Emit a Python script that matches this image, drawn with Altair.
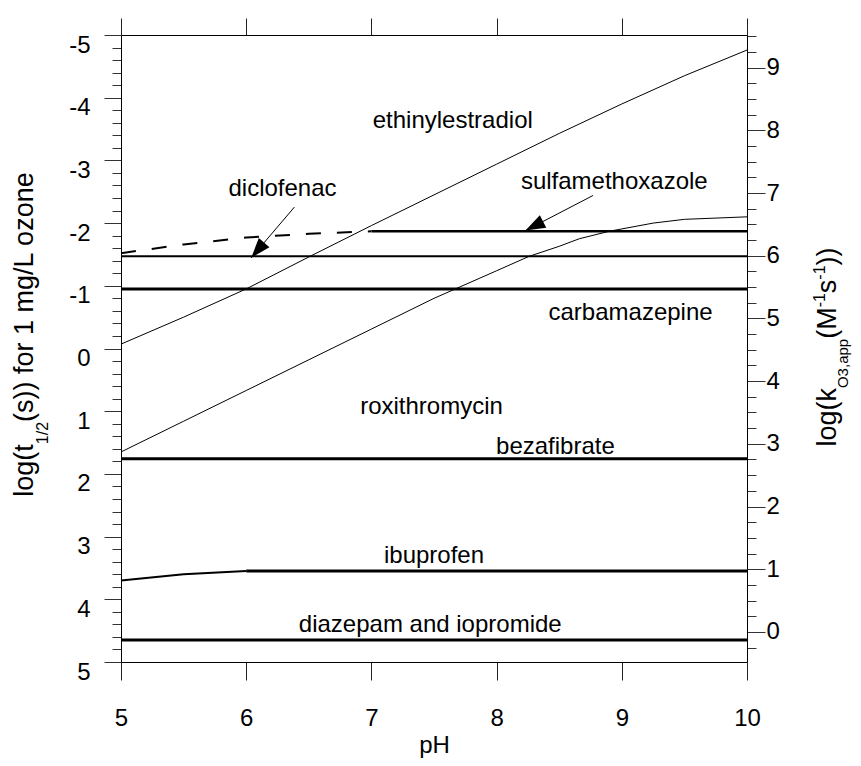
import math
import altair as alt
import pandas as pd

FONT = "Liberation Sans"

# ---------------- data ----------------
# x = pH, y = log(t1/2 (s)) for 1 mg/L ozone  (left axis)
ph_ethinylestradiol = [5, 5.5, 6, 6.5, 7, 7.5, 8, 8.5, 9, 9.5, 10]
logt_ethinylestradiol = [-0.07, -0.50, -0.95, -1.46, -1.96, -2.45, -2.94, -3.43, -3.90, -4.35, -4.76]

ph_roxithromycin = [5, 5.5, 6, 6.5, 7, 7.5, 8, 8.26, 8.5, 8.66, 8.9, 9.25, 9.5, 10]
logt_roxithromycin = [1.65, 1.16, 0.67, 0.18, -0.31, -0.80, -1.24, -1.47, -1.63, -1.75, -1.87, -2.00, -2.06, -2.10]

ph_sulfa_dashed = [5, 5.5, 6, 6.5, 7]
logt_sulfa_dashed = [-1.52, -1.66, -1.77, -1.83, -1.87]

ph_ibuprofen_low = [5, 5.5, 6]
logt_ibuprofen_low = [3.70, 3.60, 3.55]

flat_names = ["sulfamethoxazole", "diclofenac", "carbamazepine", "bezafibrate", "ibuprofen", "diazepam and iopromide"]
flat_ph_start = [7, 5, 5, 5, 6, 5]
flat_ph_end = [10, 10, 10, 10, 10, 10]
flat_logt = [-1.87, -1.47, -0.95, 1.76, 3.55, 4.65]
flat_width = [2.5, 2, 3, 3, 3, 3]

label_text = ["ethinylestradiol", "diclofenac", "sulfamethoxazole", "carbamazepine",
              "roxithromycin", "bezafibrate", "ibuprofen", "diazepam and iopromide"]
label_ph = [7.65, 6.29, 8.94, 9.07, 7.48, 8.47, 7.50, 7.47]
label_logt = [-3.52, -2.44, -2.55, -0.46, 1.04, 1.68, 3.42, 4.52]

arrow_names = ["diclofenac", "sulfamethoxazole"]
arrow_tail_ph = [6.385, 8.77]
arrow_tail_logt = [-2.255, -2.44]
arrow_tip_ph = [6.04, 8.23]
arrow_tip_logt = [-1.447, -1.88]

x_ticks = [5, 6, 7, 8, 9, 10]
left_major = list(range(-5, 6))
right_major = list(range(0, 10))
LOG_HALF_LIFE_OFFSET = 4.52   # log(t1/2) = 4.52 - log(k) for 1 mg/L ozone

# ---------------- layout ----------------
W, H = 626, 627
PAD_L, PAD_T = 113, 27
PAD_R = 861 - 16 - PAD_L - W
PAD_B = 766 - 16 - PAD_T - H

xscale = alt.Scale(domain=[5, 10], nice=False, zero=False)
yscale = alt.Scale(domain=[-5, 5], reverse=True, nice=False, zero=False)

is_int = "abs(datum.value - round(datum.value)) < 0.001"
left_vals = [round(-5 + 0.2 * i, 1) for i in range(51)]
right_vals = [round(-0.25 + 0.25 * i, 2) for i in range(40)]

x_axis = alt.Axis(orient="bottom", values=x_ticks, tickSize=18, labelPadding=26,
                  labelFontSize=24, title="pH", titleFontSize=24, titlePadding=3,
                  titleFontWeight="normal", grid=False, domainColor="black",
                  tickColor="#222", labelColor="black", titleColor="black",
                  labelFlush=False)
y_axis = alt.Axis(orient="left", values=left_vals,
                  tickSize={"condition": {"test": is_int, "value": 17}, "value": 9},
                  labelExpr=f"{is_int} ? toString(round(datum.value)) : ''",
                  labelFontSize=24, labelPadding=14, labelOffset=10, labelOverlap=False,
                  title=None, grid=False, domainColor="black", tickColor="#333",
                  labelColor="black", labelFlush=False)


def X(f="pH"):
    return alt.X(f"{f}:Q", scale=xscale, axis=x_axis)


def Y(f="L"):
    return alt.Y(f"{f}:Q", scale=yscale, axis=y_axis)


curves = pd.DataFrame({
    "pH": ph_ethinylestradiol + ph_roxithromycin,
    "L": logt_ethinylestradiol + logt_roxithromycin,
    "s": ["ethinylestradiol"] * len(ph_ethinylestradiol) + ["roxithromycin"] * len(ph_roxithromycin),
})
thin = alt.Chart(curves).mark_line(color="black", strokeWidth=1).encode(x=X(), y=Y(), detail="s:N")

ibu = alt.Chart(pd.DataFrame({"pH": ph_ibuprofen_low, "L": logt_ibuprofen_low})).mark_line(
    color="black", strokeWidth=2).encode(x=X(), y=Y())

smx = alt.Chart(pd.DataFrame({"pH": ph_sulfa_dashed, "L": logt_sulfa_dashed})).mark_line(
    color="black", strokeWidth=2, strokeDash=[15, 16]).encode(x=X(), y=Y())

flat = alt.Chart(pd.DataFrame({"pH": flat_ph_start, "pH2": flat_ph_end, "L": flat_logt,
                               "w": flat_width, "n": flat_names})).mark_rule(color="black").encode(
    x=X(), x2=alt.X2("pH2:Q"), y=Y(), strokeWidth=alt.StrokeWidth("w:Q", scale=None))

labels = alt.Chart(pd.DataFrame({"pH": label_ph, "L": label_logt, "t": label_text})).mark_text(
    fontSize=24, align="center", baseline="alphabetic", color="black", font=FONT).encode(
    x=X(), y=Y(), text="t:N")

# arrows
px_per_ph = W / 5.0
px_per_L = H / 10.0
angles = []
for i in range(len(arrow_names)):
    dx = (arrow_tip_ph[i] - arrow_tail_ph[i]) * px_per_ph
    dy = (arrow_tip_logt[i] - arrow_tail_logt[i]) * px_per_L
    angles.append(math.degrees(math.atan2(dx, -dy)) % 360)
arr = pd.DataFrame({"pH": arrow_tail_ph, "L": arrow_tail_logt, "pH2": arrow_tip_ph,
                    "L2": arrow_tip_logt, "ang": angles})
arrow_lines = alt.Chart(arr).mark_rule(color="black", strokeWidth=1).encode(
    x=X(), y=Y(), x2=alt.X2("pH2:Q"), y2=alt.Y2("L2:Q"))
arrow_heads = alt.Chart(arr).mark_point(
    shape="M0,0 L-0.42,1.2 L0.42,1.2 Z", filled=True, color="black", opacity=1,
    size=1100, strokeWidth=0).encode(
    x=alt.X("pH2:Q", scale=xscale, axis=x_axis), y=alt.Y("L2:Q", scale=yscale, axis=y_axis),
    angle=alt.Angle("ang:Q", scale=None))

# ---------------- composed axis titles (sub/superscripts) ----------------
AW = {" ": 278, "(": 333, ")": 333, "/": 278, ",": 278, "-": 333, "a": 556, "b": 556,
      "c": 500, "d": 556, "e": 556, "f": 278, "g": 556, "h": 556, "i": 222, "k": 500,
      "l": 222, "m": 833, "n": 556, "o": 556, "p": 556, "r": 333, "s": 500, "t": 278,
      "z": 500, "L": 556, "M": 833, "O": 778}


def tw(s, size):
    return sum(AW.get(c, 556) for c in s) * size / 1000.0


one = pd.DataFrame({"a": [0]})


def rotated_title(pieces, base_x, center_y):
    total = sum(tw(t, fs) for t, fs, _ in pieces)
    y = center_y + total / 2.0
    out = []
    for t, fs, shift in pieces:
        out.append(alt.Chart(one).mark_text(
            text=t, fontSize=fs, angle=270, align="left", baseline="alphabetic",
            color="black", font=FONT).encode(x=alt.value(base_x + shift), y=alt.value(y)))
        y -= tw(t, fs)
    return out


TF, SF = 27, 16
left_title = rotated_title(
    [("log(t", TF, 0), ("1/2", SF, 15), ("(s)) for 1 mg/L ozone", TF, 0)],
    33 - (PAD_L + 8), 334 - (PAD_T + 8))
right_title = rotated_title(
    [("log(k", TF, 0), ("O3,app", 15, 12), ("(M", TF, 0), ("-1", SF, -11),
     ("s", TF, 0), ("-1", SF, -11), ("))", TF, 0)],
    836 - (PAD_L + 8), 347 - (PAD_T + 8))

layer_a = alt.layer(thin, ibu, smx, flat, arrow_lines, arrow_heads, labels,
                    *left_title, *right_title)

# top x axis (ticks only)
top_axis = alt.Chart(pd.DataFrame({"pH": x_ticks})).mark_rule(opacity=0).encode(
    x=alt.X("pH:Q", scale=xscale,
            axis=alt.Axis(orient="top", values=x_ticks, tickSize=17, labels=False, title=None,
                          grid=False, domainColor="black", tickColor="#222")))

# right axis: log(k_O3,app)
right_axis = alt.Chart(pd.DataFrame({"k": right_major})).mark_point(opacity=0).encode(
    y=alt.Y("k:Q",
            scale=alt.Scale(domain=[LOG_HALF_LIFE_OFFSET - 5, LOG_HALF_LIFE_OFFSET + 5],
                            nice=False, zero=False),
            axis=alt.Axis(orient="right", values=right_vals,
                          tickSize={"condition": {"test": is_int, "value": 18}, "value": 9},
                          labelExpr=f"{is_int} ? toString(round(datum.value)) : ''",
                          labelFontSize=24, labelPadding=1, labelOverlap=False, title=None,
                          grid=False, domainColor="black", tickColor="#333",
                          labelColor="black", labelFlush=False)))

chart = alt.layer(layer_a, top_axis, right_axis).resolve_scale(
    y="independent").resolve_axis(x="independent", y="independent").properties(
    width=W, height=H,
    padding={"left": PAD_L, "top": PAD_T, "right": PAD_R, "bottom": PAD_B},
    autosize=alt.AutoSizeParams(type="none"),
).configure_view(stroke=None).configure_axis(
    labelFont=FONT, titleFont=FONT, domainWidth=1, tickWidth=1
).configure(background="white")

chart.save("out.html", embed_options={"renderer": "svg", "actions": False})
